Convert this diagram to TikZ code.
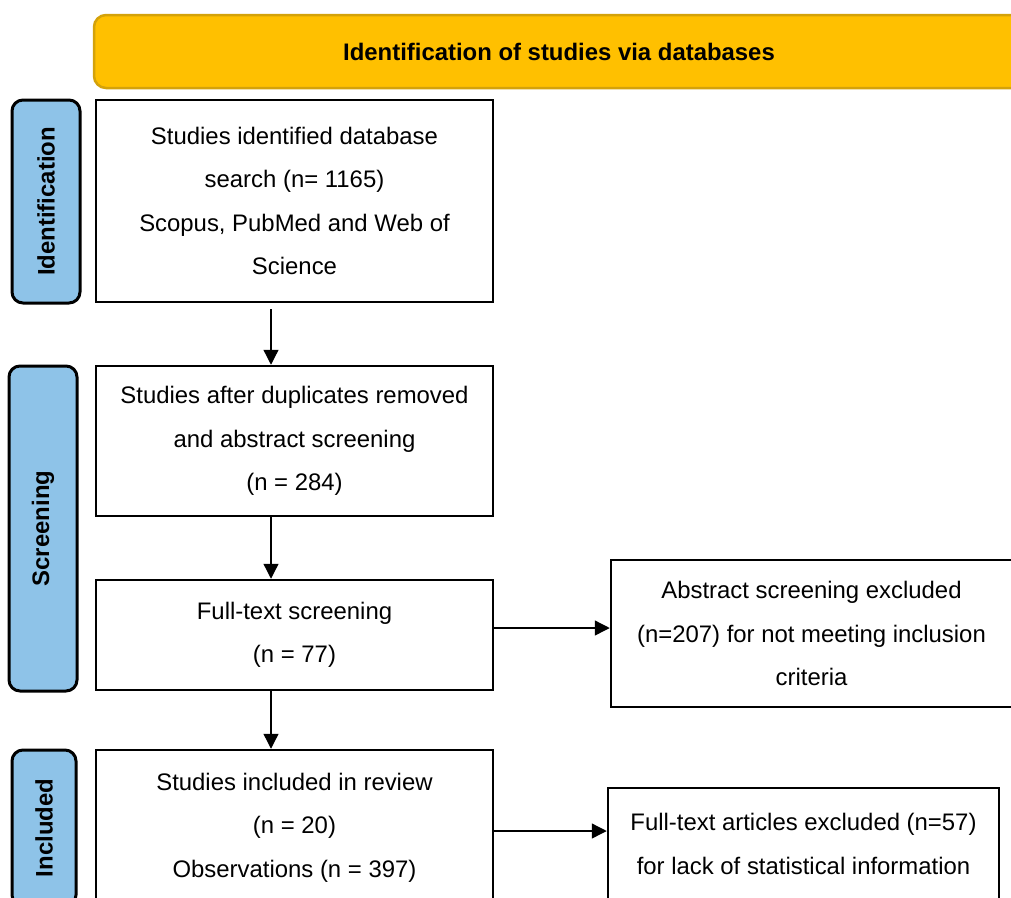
\documentclass[tikz,border=0pt]{standalone}
\usepackage{fontspec}
\setmainfont{Liberation Sans}
\usetikzlibrary{arrows.meta}
\definecolor{bannergold}{HTML}{FFC000}
\definecolor{bannerrim}{HTML}{D4A20A}
\definecolor{phaseblue}{HTML}{8EC3E8}
\tikzset{
	stagebox/.style={draw,line width=2.5pt,fill=white,inner sep=0pt,align=center,
		font=\fontsize{23.9}{43.5}\selectfont},
	phasebox/.style={draw,line width=3pt,fill=phaseblue,rounded corners=11pt,inner sep=0pt,
		font=\fontsize{23.9}{28}\selectfont\bfseries},
	arr/.style={line width=1.3pt,-{Triangle[length=15pt,width=15pt]}}
}
\begin{document}
\begin{tikzpicture}[x=1pt,y=1pt]
		\useasboundingbox (0,0) rectangle (1011,-897);
		% banner
			\node[draw=bannerrim,line width=2.5pt,fill=bannergold,rounded corners=12pt,
				minimum width=930pt,minimum height=73pt,
				font=\fontsize{23.9}{28}\selectfont\bfseries] (banner) at (559,-51.5)
				{Identification of studies via databases};
		% phases
			\foreach \name/\x/\y/\w/\h/\label in {
				pid/46/-201.5/68/203/Identification,
				psc/43/-528.5/68/325/Screening,
				pin/44/-828/64/156/Included}{
				\node[phasebox,minimum width=\w pt,minimum height=\h pt] (\name) at (\x,\y) {};
				\node[rotate=90,font=\fontsize{23.9}{28}\selectfont\bfseries] at (\name) {\label};
				}
		% main column
			\node[stagebox,minimum width=397pt,minimum height=202pt] (b1) at (294.5,-201)
				{Studies identified database\\search (n= 1165)\\Scopus, PubMed and Web of\\Science};
			\node[stagebox,minimum width=397pt,minimum height=150pt] (b2) at (294.5,-441)
				{Studies after duplicates removed\\and abstract screening\\(n = 284)};
			\node[stagebox,minimum width=397pt,minimum height=110pt] (b3) at (294.5,-635)
				{Full-text screening\\(n = 77)};
			\node[stagebox,minimum width=397pt,minimum height=155pt] (b5) at (294.5,-827.5)
				{Studies included in review\\(n = 20)\\Observations (n = 397)};
		% exclusions
			\node[stagebox,minimum width=401pt,minimum height=147pt] (b4) at (811.5,-633.5)
				{Abstract screening excluded\\(n=207) for not meeting inclusion\\criteria};
			\node[stagebox,minimum width=391pt,minimum height=112pt] (b6) at (803.5,-844)
				{Full-text articles excluded (n=57)\\for lack of statistical information};
		% arrows
			\coordinate (spine) at (271,0);
			\draw[arr,shorten <=6pt] (b1.south -| spine) -- (b2.north -| spine);
			\draw[arr] (b2.south -| spine) -- (b3.north -| spine);
			\draw[arr] (b3.south -| spine) -- (b5.north -| spine);
			\draw[arr] ([yshift=7pt]b3.east) -- ([yshift=7pt]b3.east -| b4.west);
			\draw[arr] ([yshift=-3.5pt]b5.east) -- ([yshift=-3.5pt]b5.east -| b6.west);
	\end{tikzpicture}
\end{document}
